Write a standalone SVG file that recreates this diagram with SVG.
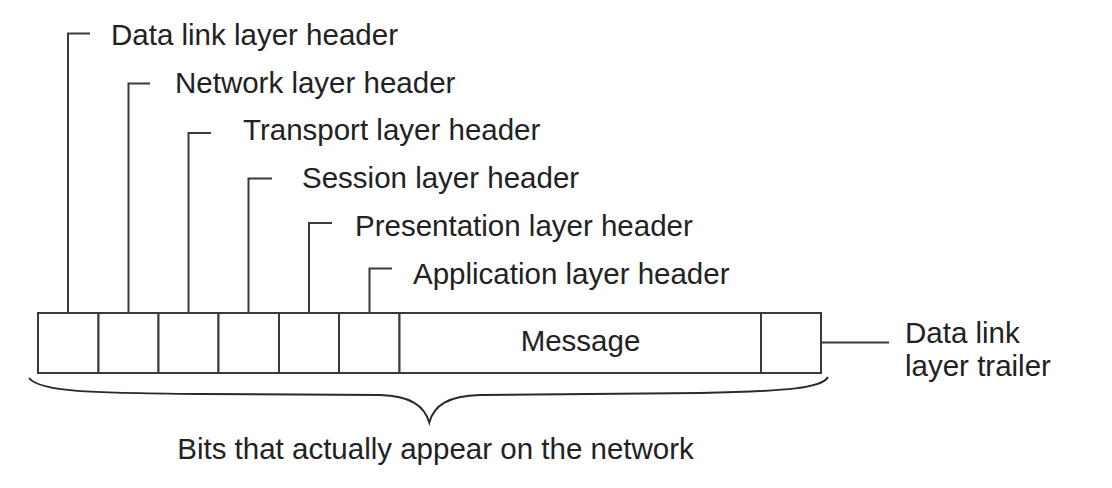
<svg xmlns="http://www.w3.org/2000/svg" width="1112" height="488" viewBox="0 0 1112 488">
<style>
  .bg{fill:#ffffff}
  .cell{fill:#ffffff;stroke:#3a3a3a;stroke-width:2}
  .ln{fill:none;stroke:#3a3a3a;stroke-width:2}
  .br{fill:none;stroke:#2a2a2a;stroke-width:2}
  text{font-family:"Liberation Sans",Arial,Helvetica,sans-serif;font-size:29.5px;fill:#222222}
</style>
<rect class="bg" x="0" y="0" width="1112" height="488"/>

<g id="connectors">
  <polyline class="ln" points="68,313 68,33.5 90,33.5"/>
  <polyline class="ln" points="128.5,313 128.5,83.5 150,83.5"/>
  <polyline class="ln" points="188.5,313 188.5,133 211,133"/>
  <polyline class="ln" points="248.5,313 248.5,178.5 272,178.5"/>
  <polyline class="ln" points="309,313 309,223 332,223"/>
  <polyline class="ln" points="369.5,313 369.5,268.5 392,268.5"/>
  <line class="ln" x1="821" y1="342.5" x2="889" y2="342.5"/>
  <path class="br" d="M29,378 C40,392 90,393 200,394 L380,395 C410,396 424,405 429.3,422.5 C434,405 448,396 480,395 L700,393 C790,391 822,388 828,377"/>
</g>

<g id="frame">
  <g id="cell-datalink-header"><rect class="cell" x="38" y="313" width="60.5" height="60"/></g>
  <g id="cell-network-header"><rect class="cell" x="98.5" y="313" width="60" height="60"/></g>
  <g id="cell-transport-header"><rect class="cell" x="158.5" y="313" width="60" height="60"/></g>
  <g id="cell-session-header"><rect class="cell" x="218.5" y="313" width="60.5" height="60"/></g>
  <g id="cell-presentation-header"><rect class="cell" x="279" y="313" width="60" height="60"/></g>
  <g id="cell-application-header"><rect class="cell" x="339" y="313" width="60.5" height="60"/></g>
  <g id="cell-message"><rect class="cell" x="399.5" y="313" width="361.5" height="60"/>
    <text x="580.5" y="350.5" text-anchor="middle">Message</text></g>
  <g id="cell-datalink-trailer"><rect class="cell" x="761" y="313" width="60" height="60"/></g>
</g>

<g id="label-datalink-header"><text x="111" y="45">Data link layer header</text></g>
<g id="label-network-header"><text x="175" y="92.5">Network layer header</text></g>
<g id="label-transport-header"><text x="243" y="140">Transport layer header</text></g>
<g id="label-session-header"><text x="302" y="188">Session layer header</text></g>
<g id="label-presentation-header"><text x="355" y="236">Presentation layer header</text></g>
<g id="label-application-header"><text x="413" y="283.5">Application layer header</text></g>
<g id="label-datalink-trailer"><text x="905" y="343">Data link</text><text x="905" y="376">layer trailer</text></g>
<g id="label-bits"><text x="435.5" y="459" text-anchor="middle">Bits that actually appear on the network</text></g>
</svg>
